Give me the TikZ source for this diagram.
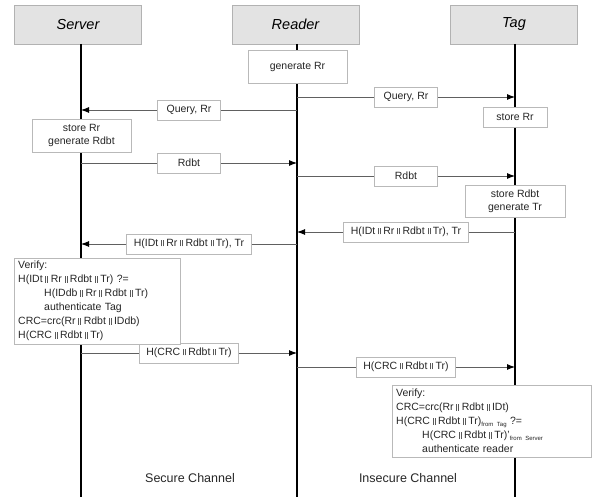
\documentclass[tikz,border=0pt]{standalone}
\usepackage{fontspec}
\setmainfont{Liberation Sans}
\usetikzlibrary{arrows.meta}

\newcommand{\dbar}{\hspace{2.8pt}\textcolor{black!65}{\rule[0.3pt]{0.5pt}{6.2pt}\hspace{1.5pt}\rule[0.3pt]{0.5pt}{6.2pt}}\hspace{2.8pt}}
\newcommand{\lowtxt}[1]{\raisebox{-1.5pt}{\fontsize{6}{6}\selectfont #1}}

\begin{document}
\begin{tikzpicture}[x=1pt,y=-1pt,
    head/.style={draw=gray!60, fill=gray!22, minimum width=127pt, minimum height=39pt,
      font=\fontsize{14.5}{16}\selectfont\itshape},
    life/.style={line width=2.3pt},
    msg/.style={draw=gray!75!black, line width=0.9pt, -{Latex[length=8pt,width=6pt,color=black]}},
    lbl/.style={draw=gray!55, fill=white, inner xsep=7pt, minimum width=63pt, minimum height=20pt,
      text=black!85, font=\fontsize{10.5}{12}\selectfont},
    act/.style={draw=gray!55, fill=white, align=center, text=black!85,
      font=\fontsize{10.5}{13}\selectfont},
    vrf/.style={draw=gray!55, fill=white, align=left, anchor=north west, inner xsep=4pt, inner ysep=3pt,
      text=black!85, font=\fontsize{10.5}{14}\selectfont},
    chan/.style={font=\fontsize{12.5}{14}\selectfont, text=black!85}
  ]
  \useasboundingbox (0,0) rectangle (594,497);

  % participants
  \node[head] (server) at (78,24.5) {Server};
  \node[head] (reader) at (295.5,24.5) {Reader};
  \node[head] (tag) at (514,24.5) {Tag};

  \coordinate (s top) at (81,44);
  \coordinate (s bot) at (81,497);
  \coordinate (r top) at (297,44);
  \coordinate (r bot) at (297,497);
  \coordinate (t top) at (515,44);
  \coordinate (t bot) at (515,497);

  \draw[life] (s top) -- (s bot);
  \draw[life] (r top) -- (r bot);
  \draw[life] (t top) -- (t bot);

  % points on the lifelines
  \coordinate (r1) at (297,97);  \coordinate (t1) at (515,97);
  \coordinate (r2) at (297,110); \coordinate (s2) at (81,110);
  \coordinate (s3) at (81,163);  \coordinate (r3) at (297,163);
  \coordinate (r4) at (297,176); \coordinate (t4) at (515,176);
  \coordinate (t5) at (515,232); \coordinate (r5) at (297,232);
  \coordinate (r6) at (297,244); \coordinate (s6) at (81,244);
  \coordinate (s7) at (81,353);  \coordinate (r7) at (297,353);
  \coordinate (r8) at (297,367); \coordinate (t8) at (515,367);

  % local steps
  \node[act, minimum width=99pt, minimum height=33pt] (genRr) at (297.5,66.5) {generate Rr};
  \node[act, minimum width=64pt, minimum height=20pt] (storeRr) at (515,117) {store Rr};
  \node[act, minimum width=99pt, minimum height=33pt, inner ysep=1pt] (storeS) at (81.5,135.5) {store Rr\\generate Rdbt};
  \node[act, minimum width=100pt, minimum height=32pt, inner ysep=1pt] (storeT) at (515,201) {store Rdbt\\generate Tr};

  % messages
  \draw[msg] (r1) -- node[lbl] {Query, Rr} (t1);
  \draw[msg] (r2) -- node[lbl] {Query, Rr} (s2);
  \draw[msg] (s3) -- node[lbl] {Rdbt} (r3);
  \draw[msg] (r4) -- node[lbl] {Rdbt} (t4);
  \draw[msg] (t5) -- node[lbl] {H(IDt\dbar Rr\dbar Rdbt\dbar Tr), Tr} (r5);
  \draw[msg] (r6) -- node[lbl] {H(IDt\dbar Rr\dbar Rdbt\dbar Tr), Tr} (s6);
  \draw[msg] (s7) -- node[lbl] {H(CRC\dbar Rdbt\dbar Tr)} (r7);
  \draw[msg] (r8) -- node[lbl] {H(CRC\dbar Rdbt\dbar Tr)} (t8);

  % verification
  \node[vrf, text width=158pt, minimum height=82pt] (verS) at (14,258) {Verify:\\
    H(IDt\dbar Rr\dbar Rdbt\dbar Tr) ?=\\
    \hspace{26pt}H(IDdb\dbar Rr\dbar Rdbt\dbar Tr)\\
    \hspace{26pt}authenticate Tag\\
    CRC=crc(Rr\dbar Rdbt\dbar IDdb)\\
    H(CRC\dbar Rdbt\dbar Tr)};
  \node[vrf, text width=191pt, minimum height=72pt] (verT) at (392,385) {Verify:\\
    CRC=crc(Rr\dbar Rdbt\dbar IDt)\\
    H(CRC\dbar Rdbt\dbar Tr)\lowtxt{from Tag} ?=\\
    \hspace{26pt}H(CRC\dbar Rdbt\dbar Tr)'\lowtxt{from Server}\\
    \hspace{26pt}authenticate reader};

  % channels
  \node[chan] (secure) at (190,478) {Secure Channel};
  \node[chan] (insecure) at (408,478) {Insecure Channel};
\end{tikzpicture}
\end{document}
